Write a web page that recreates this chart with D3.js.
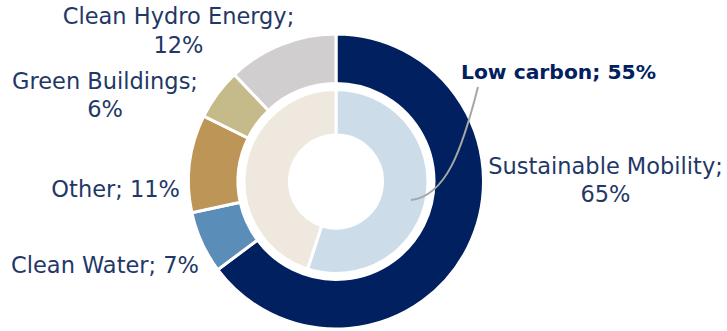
<!DOCTYPE html>
<html>
<head>
<meta charset="utf-8">
<script src="https://cdn.jsdelivr.net/npm/d3@7"></script>
<style>
  html, body { margin: 0; padding: 0; background: #fff; }
  svg { display: block; }
</style>
</head>
<body>
<div id="chart"></div>
<script>
// Outer ring: use of proceeds categories (share of total, %)
const outerNames = ["Sustainable Mobility", "Clean Water", "Other", "Green Buildings", "Clean Hydro Energy"];
const outerValues = [64.8, 6.8, 10.7, 5.6, 12.1];
const outerColors = ["#002060", "#5b8db9", "#bd9556", "#c4ba8a", "#d0cecf"];

// Inner ring: low carbon vs rest
const innerNames = ["Low carbon", "Rest"];
const innerValues = [55, 45];
const innerColors = ["#ccdde9", "#efe8de"];

const width = 727, height = 331;
const cx = 336, cy = 181.5;
const textColor = "#1f3867";
const font = "'DejaVu Sans', sans-serif";
const pct = d3.format(".0%");

const svg = d3.select("#chart")
    .append("svg")
    .attr("width", width)
    .attr("height", height);

const g = svg.append("g").attr("transform", `translate(${cx},${cy})`);

const pie = d3.pie().sort(null).value(d => d);

const outerArc = d3.arc().innerRadius(98).outerRadius(147.5);
const innerArc = d3.arc().innerRadius(46.5).outerRadius(92);

g.selectAll("path.outer")
    .data(pie(outerValues))
    .enter()
    .append("path")
    .attr("class", "outer")
    .attr("d", outerArc)
    .attr("fill", (d, i) => outerColors[i])
    .attr("stroke", "#fff")
    .attr("stroke-width", 3);

g.selectAll("path.inner")
    .data(pie(innerValues))
    .enter()
    .append("path")
    .attr("class", "inner")
    .attr("d", innerArc)
    .attr("fill", (d, i) => innerColors[i])
    .attr("stroke", "#fff")
    .attr("stroke-width", 3);

// Label layout (page coordinates): x, first baseline, anchor
const outerLabelPos = [
    { x: 605.5, y: 173.5, anchor: "middle", wrap: true },   // Sustainable Mobility
    { x: 199, y: 272.5, anchor: "end", wrap: false },        // Clean Water
    { x: 180, y: 196.5, anchor: "end", wrap: false },        // Other
    { x: 105, y: 88.5, anchor: "middle", wrap: true },       // Green Buildings
    { x: 178.5, y: 24, anchor: "middle", wrap: true }        // Clean Hydro Energy
];
const lineGap = 28.5;

outerNames.forEach((name, i) => {
    const p = outerLabelPos[i];
    const t = svg.append("text")
        .attr("x", p.x)
        .attr("y", p.y)
        .attr("text-anchor", p.anchor)
        .attr("font-family", font)
        .attr("font-size", 22.5)
        .attr("fill", textColor);
    const label = pct(outerValues[i] / 100);
    if (p.wrap) {
        t.append("tspan").attr("x", p.x).text(name + ";");
        t.append("tspan").attr("x", p.x).attr("dy", lineGap).text(label);
    } else {
        t.text(`${name}; ${label}`);
    }
});

// Leader line for the inner "Low carbon" slice
const leader = d3.path();
leader.moveTo(478, 87);
leader.bezierCurveTo(462, 150, 446, 196, 411, 200);
svg.append("path")
    .attr("d", leader.toString())
    .attr("fill", "none")
    .attr("stroke", "#a6a6a6")
    .attr("stroke-width", 2);

svg.append("text")
    .attr("x", 461)
    .attr("y", 78.5)
    .attr("font-family", font)
    .attr("font-size", 20.3)
    .attr("font-weight", "bold")
    .attr("fill", "#002060")
    .text(`${innerNames[0]}; ${pct(innerValues[0] / 100)}`);
</script>
</body>
</html>
